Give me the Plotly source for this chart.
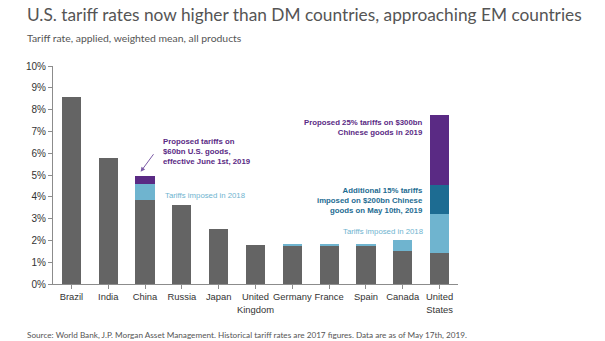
import plotly.graph_objects as go

countries = ["Brazil", "India", "China", "Russia", "Japan", "United<br>Kingdom",
             "Germany", "France", "Spain", "Canada", "United<br>States"]
historical = [8.59, 5.79, 3.84, 3.61, 2.51, 1.78, 1.78, 1.78, 1.78, 1.53, 1.41]
imposed_2018 = [0, 0, 0.73, 0, 0, 0, 0.04, 0.04, 0.04, 0.49, 1.81]
additional_15 = [0, 0, 0, 0, 0, 0, 0, 0, 0, 0, 1.31]
proposed = [0, 0, 0.37, 0, 0, 0, 0, 0, 0, 0, 3.21]
y_ticks = [0, 1, 2, 3, 4, 5, 6, 7, 8, 9, 10]
y_labels = [f"{v}%" for v in y_ticks]

GRAY = "#646464"
LBLUE = "#6FB4CF"
TEAL = "#1D6C92"
PURPLE = "#5A2A84"

fig = go.Figure()
for vals, col in [(historical, GRAY), (imposed_2018, LBLUE), (additional_15, TEAL), (proposed, PURPLE)]:
    fig.add_trace(go.Bar(x=list(range(len(countries))), y=vals, marker=dict(color=col, line=dict(width=0)),
                         hoverinfo="skip", showlegend=False))

lab_font = dict(family="Liberation Sans, Arial", size=7.8)
ann = [
    dict(x=2.43, y=6.1, xanchor="left", yanchor="middle", align="left",
         text="<b>Proposed tariffs on<br>$60bn U.S. goods,<br>effective June 1st, 2019</b>",
         font=dict(color=PURPLE, **lab_font), showarrow=False),
    dict(x=1.88, y=5.15, text="", showarrow=True, ax=14, ay=-19, arrowhead=2, arrowsize=0.9,
         arrowwidth=1, arrowcolor="#7B5AA6"),
    dict(x=2.49, y=4.04, xanchor="left", yanchor="middle", text="Tariffs imposed in 2018",
         font=dict(color=LBLUE, **lab_font), showarrow=False),
    dict(x=9.61, y=7.2, xanchor="right", yanchor="middle", align="right",
         text="<b>Proposed 25% tariffs on $300bn<br>Chinese goods in 2019</b>",
         font=dict(color=PURPLE, **lab_font), showarrow=False),
    dict(x=9.61, y=3.81, xanchor="right", yanchor="middle", align="right",
         text="<b>Additional 15% tariffs<br>imposed on $200bn Chinese<br>goods on May 10th, 2019</b>",
         font=dict(color=TEAL, **lab_font), showarrow=False),
    dict(x=9.61, y=2.39, xanchor="right", yanchor="middle", text="Tariffs imposed in 2018",
         font=dict(color=LBLUE, **lab_font), showarrow=False),
]
for a in ann:
    a.setdefault("xref", "x")
    a.setdefault("yref", "y")
    if "ax" in a:
        a["axref"] = "pixel"
        a["ayref"] = "pixel"

paper = [
    dict(x=25, y=14, text="U.S. tariff rates now higher than DM countries, approaching EM countries",
         font=dict(family="Lato", size=17.3, color="#555555")),
    dict(x=25, y=38, text="Tariff rate, applied, weighted mean, all products",
         font=dict(family="Lato", size=10.4, color="#555555")),
    dict(x=25, y=335, text="Source: World Bank, J.P. Morgan Asset Management. Historical tariff rates are 2017 figures. Data are as of May 17th, 2019.",
         font=dict(family="Lato", size=8.2, color="#555555")),
]
for p in paper:
    ann.append(dict(xref="paper", yref="paper", x=(p["x"] - 53) / 405, y=(284 - p["y"]) / 218,
                    xanchor="left", yanchor="middle", text=p["text"], font=p["font"], showarrow=False))

fig.update_layout(
    width=605, height=341, barmode="stack", bargap=0.48,
    margin=dict(l=53, r=147, t=66, b=57, autoexpand=False),
    paper_bgcolor="white", plot_bgcolor="white",
    annotations=ann,
    xaxis=dict(tickmode="array", tickvals=list(range(len(countries))), ticktext=countries,
               range=[-0.5, 10.5], showline=True, linecolor="#8c8c8c", linewidth=1,
               ticks="outside", ticklen=4, tickcolor="#8c8c8c", tickson="boundaries",
               tickangle=0, automargin=False,
               tickfont=dict(family="Liberation Sans, Arial", size=9.4, color="#333333"),
               showgrid=False, zeroline=False, fixedrange=True),
    yaxis=dict(range=[0, 10], tickmode="array", tickvals=y_ticks, ticktext=y_labels,
               showline=True, linecolor="#8c8c8c", automargin=False,
               linewidth=1, ticks="outside", ticklen=4, tickcolor="#8c8c8c",
               tickfont=dict(family="Liberation Sans, Arial", size=10, color="#333333"),
               showgrid=False, zeroline=False, fixedrange=True),
)

fig.write_html("out.html", config={"displayModeBar": False})
